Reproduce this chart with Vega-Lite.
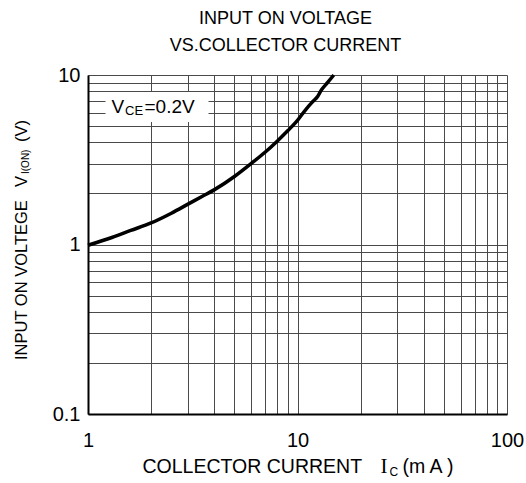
{
  "$schema": "https://vega.github.io/schema/vega-lite/v6.json",
  "width": 419,
  "height": 339,
  "autosize": {"type": "none"},
  "padding": {"left": 88, "top": 75, "right": 19, "bottom": 69},
  "background": "white",
  "title": {
    "text": ["INPUT ON VOLTAGE", "VS.COLLECTOR CURRENT"],
    "font": "Liberation Sans",
    "fontSize": 18,
    "fontWeight": "normal",
    "color": "#000",
    "lineHeight": 27,
    "anchor": "middle",
    "frame": "group",
    "dx": -12,
    "offset": 10
  },
  "config": {
    "view": {"stroke": null},
    "axis": {
      "grid": true,
      "gridColor": "#4a4a4a",
      "gridWidth": 1,
      "gridOpacity": 1,
      "ticks": false,
      "domainColor": "#000",
      "domainWidth": 2,
      "labelFont": "Liberation Sans",
      "labelFontSize": 20,
      "labelColor": "#000",
      "labelOverlap": false,
      "labelFlush": false,
      "title": null
    }
  },
  "encoding": {
    "x": {
      "field": "x",
      "type": "quantitative",
      "scale": {"type": "log", "domain": [1, 100], "nice": false},
      "axis": {
        "values": [1, 2, 3, 4, 5, 6, 7, 8, 9, 10, 20, 30, 40, 50, 60, 70, 80, 90, 100],
        "labelExpr": "datum.value == 1 || datum.value == 10 || datum.value == 100 ? format(datum.value, '~g') : ''",
        "labelPadding": 16,
        "title": null
      }
    },
    "y": {
      "field": "y",
      "type": "quantitative",
      "scale": {"type": "log", "domain": [0.1, 10], "nice": false},
      "axis": {
        "values": [0.1, 0.2, 0.3, 0.4, 0.5, 0.6, 0.7, 0.8, 0.9, 1, 2, 3, 4, 5, 6, 7, 8, 9, 10],
        "labelExpr": "datum.value == 0.1 || datum.value == 1 || datum.value == 10 ? format(datum.value, '~g') : ''",
        "labelPadding": 8,
        "title": null
      }
    }
  },
  "layer": [
    {
      "data": {"values": [{"x": 1.212, "x2": 3.76, "y": 5.28, "y2": 7.94}]},
      "mark": {"type": "rect", "fill": "white", "stroke": null},
      "encoding": {"x2": {"field": "x2"}, "y2": {"field": "y2"}}
    },
    {
      "data": {"values": [{"x": 10}, {"x": 100}]},
      "mark": {"type": "rule", "color": "#000", "strokeWidth": 4},
      "encoding": {"y": {"datum": 0.1}, "y2": {"datum": 10}}
    },
    {
      "data": {"values": [{"y": 1}, {"y": 10}]},
      "mark": {"type": "rule", "color": "#000", "strokeWidth": 4},
      "encoding": {"x": {"datum": 1}, "x2": {"datum": 100}}
    },
    {
      "data": {"values": [
        {"x": 1, "y": 0.99},
        {"x": 1.3, "y": 1.1},
        {"x": 1.6, "y": 1.21},
        {"x": 2, "y": 1.34},
        {"x": 2.5, "y": 1.53},
        {"x": 3, "y": 1.73},
        {"x": 3.5, "y": 1.92},
        {"x": 4, "y": 2.1},
        {"x": 5, "y": 2.52},
        {"x": 6, "y": 3.0},
        {"x": 7, "y": 3.5},
        {"x": 8, "y": 4.07},
        {"x": 9, "y": 4.7},
        {"x": 10, "y": 5.4},
        {"x": 11, "y": 6.3},
        {"x": 11.8, "y": 6.95},
        {"x": 12.5, "y": 7.5},
        {"x": 13, "y": 8.15},
        {"x": 14, "y": 9.1},
        {"x": 14.9, "y": 10}
      ]},
      "mark": {"type": "line", "color": "#000", "strokeWidth": 3.5, "interpolate": "monotone"}
    },
    {
      "data": {"values": [
        {"x": 1.295, "y": 5.97, "text": "V"},
        {"x": 1.861, "y": 5.97, "text": "=0.2V"}
      ]},
      "mark": {"type": "text", "font": "Liberation Sans", "fontSize": 19, "align": "left", "baseline": "alphabetic", "color": "#000"},
      "encoding": {"text": {"field": "text"}}
    },
    {
      "data": {"values": [{"x": 1.502, "y": 5.834, "text": "CE"}]},
      "mark": {"type": "text", "font": "Liberation Sans", "fontSize": 13, "align": "left", "baseline": "alphabetic", "color": "#000"},
      "encoding": {"text": {"field": "text"}}
    },
    {
      "data": {"values": [
        {"x": 1.82, "y": 0.0449, "text": "COLLECTOR CURRENT"},
        {"x": 31.7, "y": 0.0449, "text": "(m A )"}
      ]},
      "mark": {"type": "text", "font": "Liberation Sans", "fontSize": 19.5, "align": "left", "baseline": "alphabetic", "color": "#000"},
      "encoding": {"text": {"field": "text"}}
    },
    {
      "data": {"values": [{"x": 24.9, "y": 0.0449, "text": "I"}]},
      "mark": {"type": "text", "font": "Liberation Serif", "fontSize": 21, "align": "left", "baseline": "alphabetic", "color": "#000"},
      "encoding": {"text": {"field": "text"}}
    },
    {
      "data": {"values": [{"x": 27.48, "y": 0.0431, "text": "C"}]},
      "mark": {"type": "text", "font": "Liberation Sans", "fontSize": 12, "align": "left", "baseline": "alphabetic", "color": "#000"},
      "encoding": {"text": {"field": "text"}}
    },
    {
      "data": {"values": [
        {"x": 0.514, "y": 0.2083, "text": "INPUT ON VOLTEGE"},
        {"x": 0.514, "y": 2.184, "text": "V"},
        {"x": 0.514, "y": 4.025, "text": "(V)"}
      ]},
      "mark": {"type": "text", "font": "Liberation Sans", "fontSize": 16.5, "align": "left", "baseline": "alphabetic", "angle": 270, "color": "#000"},
      "encoding": {"text": {"field": "text"}}
    },
    {
      "data": {"values": [{"x": 0.5256, "y": 2.606, "text": "I(ON)"}]},
      "mark": {"type": "text", "font": "Liberation Sans", "fontSize": 10, "align": "left", "baseline": "alphabetic", "angle": 270, "color": "#000"},
      "encoding": {"text": {"field": "text"}}
    }
  ]
}
